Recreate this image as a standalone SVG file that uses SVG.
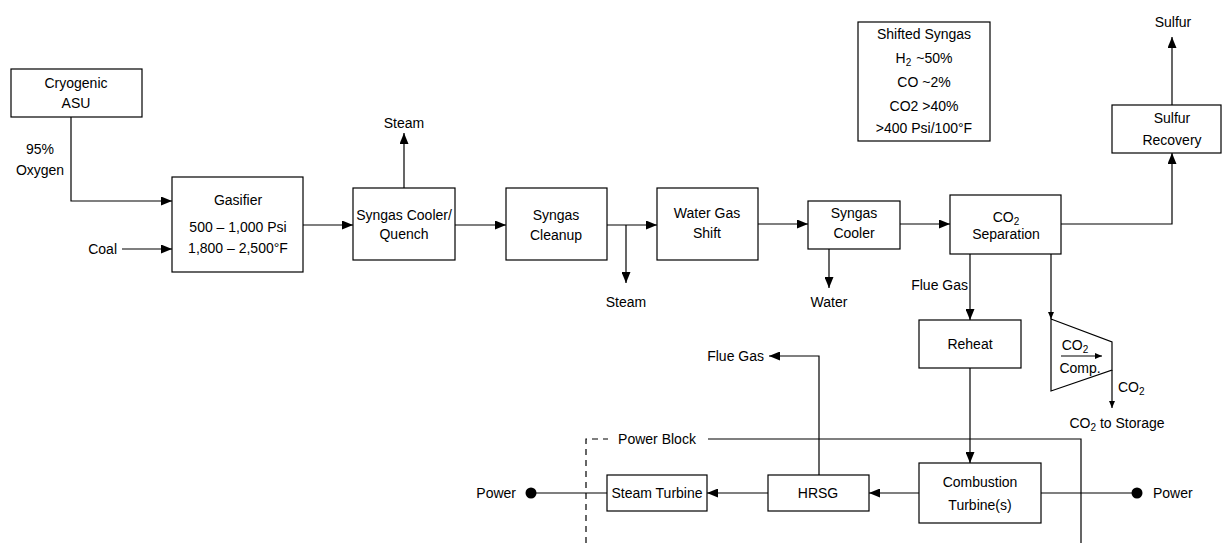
<svg xmlns="http://www.w3.org/2000/svg" width="1223" height="543" viewBox="0 0 1223 543">
<style>
text{font-family:"Liberation Sans",Arial,sans-serif;font-size:14px;fill:#000;text-anchor:middle}
.box{fill:#fff;stroke:#000;stroke-width:1.2}
.ln{fill:none;stroke:#000;stroke-width:1.2}
.dash{fill:none;stroke:#000;stroke-width:1.2;stroke-dasharray:6,5}
.sub{font-size:10px}
.l{text-anchor:start}
.r{text-anchor:end}
</style>
<defs>
<marker id="ah" markerWidth="11" markerHeight="9" refX="11" refY="4.5" orient="auto" markerUnits="userSpaceOnUse"><path d="M0,0 L11,4.5 L0,9 Z" fill="#000"/></marker>
<marker id="as" markerWidth="7" markerHeight="6" refX="7" refY="3" orient="auto" markerUnits="userSpaceOnUse"><path d="M0,0 L7,3 L0,6 Z" fill="#000"/></marker>
</defs>
<rect width="1223" height="543" fill="#fff"/>
<g id="connectors">
<polyline class="ln" points="71,117 71,201 172,201" marker-end="url(#ah)"/>
<line class="ln" x1="122" y1="249" x2="172" y2="249" marker-end="url(#ah)"/>
<line class="ln" x1="303" y1="225" x2="353" y2="225" marker-end="url(#ah)"/>
<line class="ln" x1="404" y1="188" x2="404" y2="133" marker-end="url(#ah)"/>
<line class="ln" x1="455" y1="225" x2="506" y2="225" marker-end="url(#ah)"/>
<line class="ln" x1="607" y1="225" x2="657" y2="225" marker-end="url(#ah)"/>
<line class="ln" x1="626" y1="225" x2="626" y2="283" marker-end="url(#ah)"/>
<line class="ln" x1="758" y1="224" x2="808" y2="224" marker-end="url(#ah)"/>
<line class="ln" x1="829" y1="249" x2="829" y2="288" marker-end="url(#ah)"/>
<line class="ln" x1="900" y1="224" x2="950" y2="224" marker-end="url(#ah)"/>
<polyline class="ln" points="1061,224 1172,224 1172,153" marker-end="url(#ah)"/>
<line class="ln" x1="1172" y1="105" x2="1172" y2="37" marker-end="url(#ah)"/>
<line class="ln" x1="970" y1="254" x2="970" y2="320" marker-end="url(#ah)"/>
<line class="ln" x1="1051" y1="254" x2="1051" y2="319" marker-end="url(#as)"/>
<line class="ln" x1="1112" y1="370" x2="1112" y2="408" marker-end="url(#as)"/>
<line class="ln" x1="1061" y1="356" x2="1102" y2="356" marker-end="url(#as)"/>
<line class="ln" x1="970" y1="368" x2="970" y2="463" marker-end="url(#ah)"/>
<line class="ln" x1="919" y1="493" x2="869" y2="493" marker-end="url(#ah)"/>
<line class="ln" x1="768" y1="493" x2="707" y2="493" marker-end="url(#ah)"/>
<polyline class="ln" points="819,475 819,356 769,356" marker-end="url(#ah)"/>
<line class="ln" x1="607" y1="493" x2="531" y2="493"/>
<line class="ln" x1="1041" y1="493" x2="1137" y2="493"/>
<circle cx="531" cy="493" r="5.5" fill="#000"/>
<circle cx="1137" cy="493" r="5.5" fill="#000"/>
</g>
<g id="power-block">
<polyline class="dash" points="586,543 586,439 608,439"/>
<polyline class="ln" points="708,439 1081,439 1081,543"/>
<text x="657" y="444">Power Block</text>
</g>
<g id="asu"><rect class="box" x="11" y="69" width="131" height="48"/><text x="76" y="88">Cryogenic</text><text x="76" y="108">ASU</text></g>
<g id="oxygen-label"><text x="40" y="154">95%</text><text x="40" y="175">Oxygen</text></g>
<g id="coal-label"><text class="r" x="117" y="254">Coal</text></g>
<g id="gasifier"><rect class="box" x="172" y="177" width="131" height="95"/><text x="238" y="205">Gasifier</text><text x="238" y="232">500 – 1,000 Psi</text><text x="238" y="253">1,800 – 2,500°F</text></g>
<g id="syngas-cooler-quench"><rect class="box" x="353" y="188" width="102" height="72"/><text x="404" y="220">Syngas Cooler/</text><text x="404" y="239">Quench</text></g>
<g id="steam-top"><text x="404" y="128">Steam</text></g>
<g id="syngas-cleanup"><rect class="box" x="506" y="188" width="101" height="72"/><text x="556" y="220">Syngas</text><text x="556" y="240">Cleanup</text></g>
<g id="steam-bottom"><text x="626" y="307">Steam</text></g>
<g id="water-gas-shift"><rect class="box" x="657" y="188" width="101" height="72"/><text x="707" y="218">Water Gas</text><text x="707" y="238">Shift</text></g>
<g id="syngas-cooler"><rect class="box" x="808" y="201" width="92" height="48"/><text x="854" y="218">Syngas</text><text x="854" y="238">Cooler</text></g>
<g id="water-label"><text x="829" y="307">Water</text></g>
<g id="co2-separation"><rect class="box" x="950" y="195" width="111" height="59"/><text x="1006" y="222">CO<tspan class="sub" dy="3">2</tspan></text><text x="1006" y="239">Separation</text></g>
<g id="sulfur-recovery"><rect class="box" x="1112" y="105" width="109" height="48"/><text x="1172" y="123">Sulfur</text><text x="1172" y="145">Recovery</text></g>
<g id="sulfur-label"><text x="1173" y="27">Sulfur</text></g>
<g id="shifted-syngas"><rect class="box" x="858" y="22" width="132" height="119"/><text x="924" y="39">Shifted Syngas</text><text x="924" y="63">H<tspan class="sub" dy="3">2</tspan><tspan dx="5" dy="-3">~50%</tspan></text><text x="924" y="87">CO ~2%</text><text x="924" y="111">CO2 &gt;40%</text><text x="924" y="133">&gt;400 Psi/100°F</text></g>
<g id="flue-gas-label"><text class="r" x="968" y="290">Flue Gas</text></g>
<g id="reheat"><rect class="box" x="919" y="320" width="102" height="48"/><text x="970" y="349">Reheat</text></g>
<g id="co2-compressor"><polygon class="ln" points="1051,319 1112,342 1112,370 1051,391"/><text x="1075" y="350">CO<tspan class="sub" dy="3">2</tspan></text><text x="1080" y="373">Comp.</text></g>
<g id="co2-out-label"><text class="l" x="1118" y="392">CO<tspan class="sub" dy="3">2</tspan></text></g>
<g id="co2-storage"><text x="1117" y="428">CO<tspan class="sub" dy="3">2</tspan><tspan dy="-3"> to Storage</tspan></text></g>
<g id="combustion-turbine"><rect class="box" x="919" y="463" width="122" height="60"/><text x="980" y="487">Combustion</text><text x="980" y="510">Turbine(s)</text></g>
<g id="hrsg"><rect class="box" x="768" y="475" width="101" height="36"/><text x="818" y="498">HRSG</text></g>
<g id="steam-turbine"><rect class="box" x="607" y="475" width="100" height="36"/><text x="657" y="498">Steam Turbine</text></g>
<g id="flue-gas-top"><text class="r" x="764" y="361">Flue Gas</text></g>
<g id="power-left"><text class="r" x="516" y="498">Power</text></g>
<g id="power-right"><text class="l" x="1153" y="498">Power</text></g>
</svg>
